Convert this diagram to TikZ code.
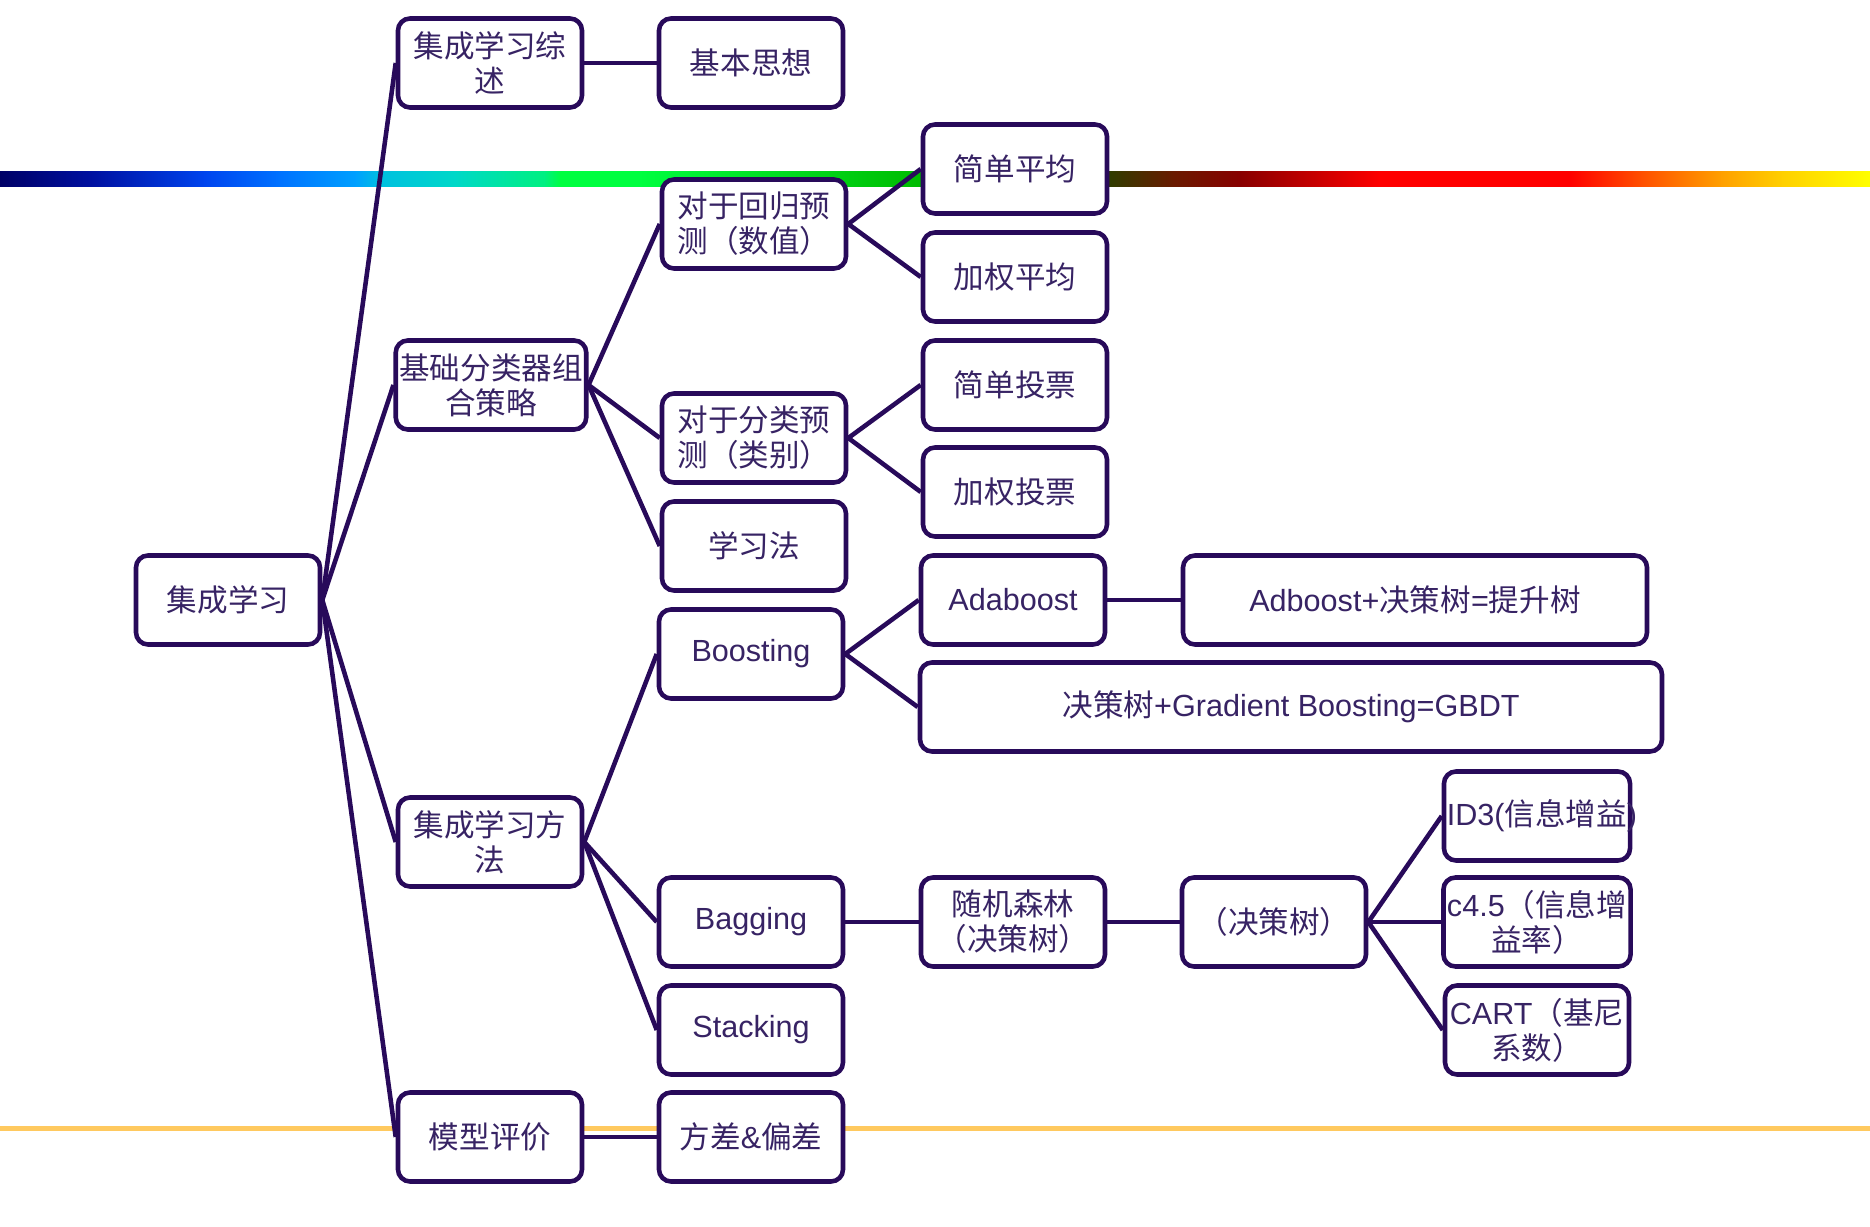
\documentclass[tikz,border=0pt]{standalone}
\usepackage{fontspec}
\setmainfont{Noto Sans CJK SC}
\newfontfamily\lat{Liberation Sans}
\usetikzlibrary{positioning}

\definecolor{edgepurple}{RGB}{40,10,90}
\definecolor{textpurple}{RGB}{55,35,100}
\definecolor{barorange}{RGB}{255,201,95}
% rainbow bar stops
\definecolor{c0}{RGB}{0,0,102}
\definecolor{c1}{RGB}{0,16,160}
\definecolor{c2}{RGB}{0,68,238}
\definecolor{c3}{RGB}{0,112,255}
\definecolor{c4}{RGB}{0,160,255}
\definecolor{c5}{RGB}{0,192,224}
\definecolor{c6}{RGB}{0,216,200}
\definecolor{c7}{RGB}{0,240,128}
\definecolor{c8}{RGB}{0,255,64}
\definecolor{c9}{RGB}{0,187,0}
\definecolor{c10}{RGB}{48,60,0}
\definecolor{c11}{RGB}{106,26,0}
\definecolor{c12}{RGB}{136,0,0}
\definecolor{c13}{RGB}{255,0,0}
\definecolor{c14}{RGB}{255,80,0}
\definecolor{c15}{RGB}{255,160,0}
\definecolor{c16}{RGB}{255,208,0}
\definecolor{c17}{RGB}{255,255,0}

\tikzset{
  box/.style={draw=edgepurple, line width=1.3pt, rounded corners=1.2mm,
    fill=white, text=textpurple, align=center, inner sep=1pt,
    minimum width=18.4mm, minimum height=8.9mm,
    font=\fontsize{8.7pt}{10pt}\selectfont},
  link/.style={draw=edgepurple, line width=1.3pt},
}

\begin{document}
\begin{tikzpicture}[x=0.1mm,y=-0.1mm]

\useasboundingbox (0,0) rectangle (1870,1227);

% ============================
% BACKGROUND BARS
% ============================

\foreach \xa/\xb/\ca/\cb in {0/91/c0/c1, 91/205/c1/c2, 205/277/c2/c3,
    277/356/c3/c4, 356/380/c4/c5, 380/455/c5/c6, 455/545/c6/c7,
    545/561/c7/c8, 561/640/c8/c8, 640/921/c8/c9, 921/1110/c9/c10,
    1110/1174/c10/c11, 1174/1240/c11/c12, 1240/1381/c12/c13,
    1381/1570/c13/c13, 1570/1642/c13/c14, 1642/1722/c14/c15,
    1722/1783/c15/c16, 1783/1870/c16/c17}
  \shade[left color=\ca, right color=\cb] (\xa-0.5,172) rectangle (\xb+0.5,187);

\fill[barorange] (0,1126) rectangle (1870,1131);

% ============================
% NODES
% ============================

\node[box] (root) at (228,600) {集成学习};

\node[box] (overview) at (490,63) {集成学习综\\述};
\node[box] (idea) at (751,63) {基本思想};

\node[box] (combine) at (491,385) {基础分类器组\\合策略};
\node[box] (regress) at (754,224) {对于回归预\\测（数值）};
\node[box] (simpleavg) at (1015,169) {简单平均};
\node[box] (weightavg) at (1015,277) {加权平均};
\node[box] (classify) at (754,438) {对于分类预\\测（类别）};
\node[box] (simplevote) at (1015,385) {简单投票};
\node[box] (weightvote) at (1015,492) {加权投票};
\node[box] (learnmeth) at (754,546) {学习法};

\node[box] (methods) at (490,842) {集成学习方\\法};
\node[box] (boosting) at (751,654) {\lat Boosting};
\node[box] (adaboost) at (1013,600) {\lat Adaboost};
\node[box, minimum width=46.4mm] (boosttree) at (1415,600)
  {{\lat Adboost+}决策树{\lat =}提升树};
\node[box, minimum width=74.2mm] (gbdt) at (1291,707)
  {决策树{\lat +Gradient Boosting=GBDT}};
\node[box] (bagging) at (751,922) {\lat Bagging};
\node[box] (forest) at (1013,922) {随机森林\\（决策树）};
\node[box] (dtree) at (1274,922) {（决策树）};
\node[box, inner xsep=-2pt] (idthree) at (1537,816)
  {\hspace*{2.8pt}{\lat ID3(}信息增益{\lat )}};
\node[box] (cfour) at (1537,922) {{\lat c4.5}（信息增\\益率）};
\node[box] (cart) at (1537,1030) {{\lat CART}（基尼\\系数）};
\node[box] (stacking) at (751,1030) {\lat Stacking};

\node[box] (evalm) at (490,1137) {模型评价};
\node[box] (biasvar) at (751,1137) {方差{\lat \&}偏差};

% ============================
% CONNECTORS
% ============================

\foreach \child in {overview,combine,methods,evalm}
  \draw[link] (root.east) -- (\child.west);

\draw[link] (overview.east) -- (idea.west);

\foreach \child in {regress,classify,learnmeth}
  \draw[link] (combine.east) -- (\child.west);
\draw[link] (regress.east) -- (simpleavg.west);
\draw[link] (regress.east) -- (weightavg.west);
\draw[link] (classify.east) -- (simplevote.west);
\draw[link] (classify.east) -- (weightvote.west);

\foreach \child in {boosting,bagging,stacking}
  \draw[link] (methods.east) -- (\child.west);
\draw[link] (boosting.east) -- (adaboost.west);
\draw[link] (boosting.east) -- (gbdt.west);
\draw[link] (adaboost.east) -- (boosttree.west);
\draw[link] (bagging.east) -- (forest.west);
\draw[link] (forest.east) -- (dtree.west);
\foreach \child in {idthree,cfour,cart}
  \draw[link] (dtree.east) -- (\child.west);

\draw[link] (evalm.east) -- (biasvar.west);

\end{tikzpicture}
\end{document}
